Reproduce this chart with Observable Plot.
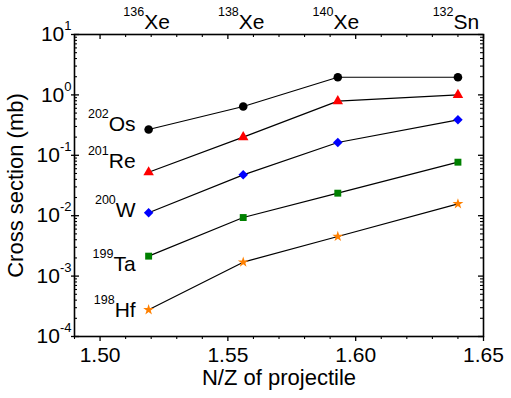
<!DOCTYPE html>
<html>
<head>
<meta charset="utf-8">
<script src="https://cdn.jsdelivr.net/npm/d3@7"></script>
<script src="https://cdn.jsdelivr.net/npm/@observablehq/plot@0.6"></script>
<style>
  html, body { margin: 0; padding: 0; background: #fff; }
  svg { display: block; }
</style>
</head>
<body>
<div id="chart"></div>
<script>
// ---- data ----
const nz = [1.519, 1.556, 1.593, 1.640];           // N/Z of projectile
const projMass = ["136", "138", "140", "132"];
const projElem = ["Xe", "Xe", "Xe", "Sn"];

const isoMass = ["202", "201", "200", "199", "198"];
const isoElem = ["Os", "Re", "W", "Ta", "Hf"];
const isoLabelY = [0.33, 0.0805, 0.0124, 0.00156, 0.000269];

const os = [0.267, 0.643, 1.96, 1.96];
const re = [0.0525, 0.200, 0.787, 1.00];
const w  = [0.0112, 0.0475, 0.163, 0.387];
const ta = [0.00214, 0.00933, 0.0236, 0.0769];
const hf = [0.000277, 0.00170, 0.00453, 0.0157];

const seriesValues = [os, re, w, ta, hf];
const seriesColors = ["#000000", "#ff0000", "#0000ff", "#008000", "#ff8000"];
const seriesSymbols = ["circle", "triangle", "diamond2", "square", "star"];
const seriesR = [4.3, 3.9, 4.3, 3.9, 3.4];

const xTicks = [1.50, 1.55, 1.60, 1.65];
const yTicks = [1e-4, 1e-3, 1e-2, 1e-1, 1e0, 1e1];

// ---- layout ----
const width = 511, height = 398;
const mL = 74, mR = 28, mT = 34, mB = 62;
const FW = width - mL - mR, FH = height - mT - mB;

const xMinor = d3.range(149, 166).map(d => d / 100).filter(d => !xTicks.some(t => Math.abs(t - d) < 1e-9));
const yMinor = [];
for (let k = -4; k <= 0; k++) for (let m = 2; m <= 9; m++) yMinor.push(m * Math.pow(10, k));

const marks = [];
// ticks
marks.push(Plot.tickX(xTicks, {x: d => d, insetTop: FH, insetBottom: -5, stroke: "black", strokeWidth: 1.3}));
marks.push(Plot.tickX(xMinor, {x: d => d, insetTop: FH, insetBottom: -3, stroke: "black", strokeWidth: 1.1}));
marks.push(Plot.tickX(xTicks, {x: d => d, insetTop: 0, insetBottom: FH - 5, stroke: "black", strokeWidth: 1.3}));
marks.push(Plot.tickX(xMinor, {x: d => d, insetTop: 0, insetBottom: FH - 3, stroke: "black", strokeWidth: 1.1}));
marks.push(Plot.tickY(yTicks, {y: d => d, insetLeft: -3, insetRight: FW - 5, stroke: "black", strokeWidth: 1.3}));
marks.push(Plot.tickY(yMinor, {y: d => d, insetLeft: 0, insetRight: FW - 3, stroke: "black", strokeWidth: 1.1}));
marks.push(Plot.tickY(yTicks, {y: d => d, insetLeft: FW - 5, insetRight: 0, stroke: "black", strokeWidth: 1.3}));
marks.push(Plot.tickY(yMinor, {y: d => d, insetLeft: FW - 3, insetRight: 0, stroke: "black", strokeWidth: 1.1}));
marks.push(Plot.frame({stroke: "black", strokeWidth: 1.6}));

// axis labels
marks.push(Plot.axisX({ticks: xTicks, tickSize: 0, tickPadding: 11, tickFormat: d3.format(".2f"), fontSize: 21, label: null}));
marks.push(Plot.axisY({ticks: yTicks, tickSize: 0, tickPadding: 3, tickFormat: d => "10|" + Math.round(Math.log10(d)), fontSize: 21, label: null}));

// titles
marks.push(Plot.text(["N/Z of projectile"], {text: d => d, frameAnchor: "bottom", dy: 48, lineAnchor: "bottom", textAnchor: "middle", fontSize: 22}));
marks.push(Plot.text(["Cross section (mb)"], {text: d => d, frameAnchor: "left", dx: -59, rotate: -90, lineAnchor: "middle", textAnchor: "middle", fontSize: 22}));

// top projectile labels
marks.push(Plot.text(nz, {x: d => d, text: (d, i) => projMass[i] + "^" + projElem[i], frameAnchor: "top", dy: -6, dx: -2, lineAnchor: "bottom", textAnchor: "middle", fontSize: 21}));

// lines and symbols
seriesValues.forEach((vals, s) => {
  marks.push(Plot.line(vals, {x: (d, i) => nz[i], y: d => d, stroke: "black", strokeWidth: 1.2}));
});
seriesValues.forEach((vals, s) => {
  marks.push(Plot.dot(vals, {x: (d, i) => nz[i], y: d => d, symbol: seriesSymbols[s], r: seriesR[s], fill: seriesColors[s], stroke: "none"}));
});

// isotope labels
marks.push(Plot.text(isoLabelY, {x: () => nz[0], y: d => d, text: (d, i) => isoMass[i] + "^" + isoElem[i], dx: -13, textAnchor: "end", lineAnchor: "middle", fontSize: 21}));

const chart = Plot.plot({
  width, height,
  marginLeft: mL, marginRight: mR, marginTop: mT, marginBottom: mB,
  style: {fontFamily: "'Liberation Sans', Arial, Helvetica, sans-serif", background: "#fff", color: "black", overflow: "visible"},
  x: {domain: [1.49, 1.65]},
  y: {type: "log", domain: [1e-4, 10]},
  marks
});

// superscripts
d3.select(chart).selectAll("text").each(function () {
  const t = this.textContent;
  const el = d3.select(this);
  if (t.includes("^")) {
    const [a, b] = t.split("^");
    el.text(null);
    el.append("tspan").attr("font-size", 12.5).attr("dy", -13).text(a);
    el.append("tspan").attr("dy", 13).text(b);
  } else if (t.includes("|")) {
    const [a, b] = t.split("|");
    el.text(null);
    el.append("tspan").text(a);
    el.append("tspan").attr("font-size", 13).attr("dy", -11).text(b);
  }
});
document.getElementById("chart").appendChild(chart);
</script>
</body>
</html>
